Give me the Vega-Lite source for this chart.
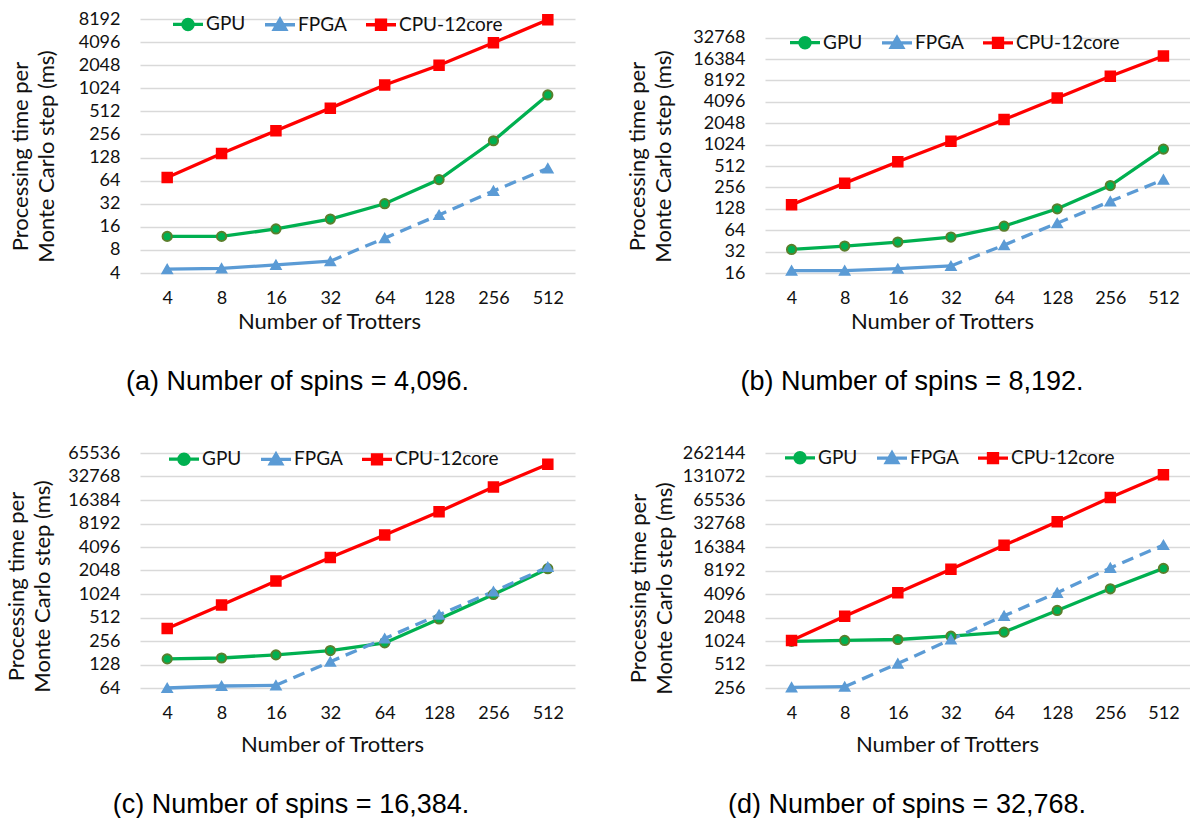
{
  "$schema": "https://vega.github.io/schema/vega-lite/v6.json",
  "padding": {"left": 5, "top": 7, "right": 0, "bottom": 0},
  "data": {"values": [
    {"panel":"a","series":"GPU","trotters":4,"time":12.0,"estimated":false},
    {"panel":"a","series":"GPU","trotters":8,"time":12.0,"estimated":false},
    {"panel":"a","series":"GPU","trotters":16,"time":15.0,"estimated":false},
    {"panel":"a","series":"GPU","trotters":32,"time":20.2,"estimated":false},
    {"panel":"a","series":"GPU","trotters":64,"time":32,"estimated":false},
    {"panel":"a","series":"GPU","trotters":128,"time":66,"estimated":false},
    {"panel":"a","series":"GPU","trotters":256,"time":212,"estimated":false},
    {"panel":"a","series":"GPU","trotters":512,"time":839,"estimated":false},
    {"panel":"a","series":"FPGA","trotters":4,"time":4.5,"estimated":false},
    {"panel":"a","series":"FPGA","trotters":8,"time":4.6,"estimated":false},
    {"panel":"a","series":"FPGA","trotters":16,"time":5.1,"estimated":false},
    {"panel":"a","series":"FPGA","trotters":32,"time":5.7,"estimated":false},
    {"panel":"a","series":"FPGA","trotters":64,"time":11.4,"estimated":true},
    {"panel":"a","series":"FPGA","trotters":128,"time":22.8,"estimated":true},
    {"panel":"a","series":"FPGA","trotters":256,"time":47,"estimated":true},
    {"panel":"a","series":"FPGA","trotters":512,"time":92.5,"estimated":true},
    {"panel":"a","series":"CPU-12core","trotters":4,"time":70.5,"estimated":false},
    {"panel":"a","series":"CPU-12core","trotters":8,"time":145,"estimated":false},
    {"panel":"a","series":"CPU-12core","trotters":16,"time":286,"estimated":false},
    {"panel":"a","series":"CPU-12core","trotters":32,"time":564,"estimated":false},
    {"panel":"a","series":"CPU-12core","trotters":64,"time":1129,"estimated":false},
    {"panel":"a","series":"CPU-12core","trotters":128,"time":2048,"estimated":false},
    {"panel":"a","series":"CPU-12core","trotters":256,"time":4010,"estimated":false},
    {"panel":"a","series":"CPU-12core","trotters":512,"time":8030,"estimated":false},
    {"panel":"b","series":"GPU","trotters":4,"time":34.3,"estimated":false},
    {"panel":"b","series":"GPU","trotters":8,"time":38.3,"estimated":false},
    {"panel":"b","series":"GPU","trotters":16,"time":43.6,"estimated":false},
    {"panel":"b","series":"GPU","trotters":32,"time":51.3,"estimated":false},
    {"panel":"b","series":"GPU","trotters":64,"time":72.9,"estimated":false},
    {"panel":"b","series":"GPU","trotters":128,"time":128,"estimated":false},
    {"panel":"b","series":"GPU","trotters":256,"time":272,"estimated":false},
    {"panel":"b","series":"GPU","trotters":512,"time":885,"estimated":false},
    {"panel":"b","series":"FPGA","trotters":4,"time":17.3,"estimated":false},
    {"panel":"b","series":"FPGA","trotters":8,"time":17.3,"estimated":false},
    {"panel":"b","series":"FPGA","trotters":16,"time":18.4,"estimated":false},
    {"panel":"b","series":"FPGA","trotters":32,"time":20.1,"estimated":false},
    {"panel":"b","series":"FPGA","trotters":64,"time":39.5,"estimated":true},
    {"panel":"b","series":"FPGA","trotters":128,"time":80.3,"estimated":true},
    {"panel":"b","series":"FPGA","trotters":256,"time":163,"estimated":true},
    {"panel":"b","series":"FPGA","trotters":512,"time":329,"estimated":true},
    {"panel":"b","series":"CPU-12core","trotters":4,"time":146,"estimated":false},
    {"panel":"b","series":"CPU-12core","trotters":8,"time":294,"estimated":false},
    {"panel":"b","series":"CPU-12core","trotters":16,"time":589,"estimated":false},
    {"panel":"b","series":"CPU-12core","trotters":32,"time":1144,"estimated":false},
    {"panel":"b","series":"CPU-12core","trotters":64,"time":2304,"estimated":false},
    {"panel":"b","series":"CPU-12core","trotters":128,"time":4640,"estimated":false},
    {"panel":"b","series":"CPU-12core","trotters":256,"time":9400,"estimated":false},
    {"panel":"b","series":"CPU-12core","trotters":512,"time":18050,"estimated":false},
    {"panel":"c","series":"GPU","trotters":4,"time":151,"estimated":false},
    {"panel":"c","series":"GPU","trotters":8,"time":155,"estimated":false},
    {"panel":"c","series":"GPU","trotters":16,"time":170,"estimated":false},
    {"panel":"c","series":"GPU","trotters":32,"time":193,"estimated":false},
    {"panel":"c","series":"GPU","trotters":64,"time":242,"estimated":false},
    {"panel":"c","series":"GPU","trotters":128,"time":491,"estimated":false},
    {"panel":"c","series":"GPU","trotters":256,"time":1010,"estimated":false},
    {"panel":"c","series":"GPU","trotters":512,"time":2160,"estimated":false},
    {"panel":"c","series":"FPGA","trotters":4,"time":64,"estimated":false},
    {"panel":"c","series":"FPGA","trotters":8,"time":67.9,"estimated":false},
    {"panel":"c","series":"FPGA","trotters":16,"time":69.2,"estimated":false},
    {"panel":"c","series":"FPGA","trotters":32,"time":139,"estimated":true},
    {"panel":"c","series":"FPGA","trotters":64,"time":276,"estimated":true},
    {"panel":"c","series":"FPGA","trotters":128,"time":555,"estimated":true},
    {"panel":"c","series":"FPGA","trotters":256,"time":1100,"estimated":true},
    {"panel":"c","series":"FPGA","trotters":512,"time":2270,"estimated":true},
    {"panel":"c","series":"CPU-12core","trotters":4,"time":370,"estimated":false},
    {"panel":"c","series":"CPU-12core","trotters":8,"time":740,"estimated":false},
    {"panel":"c","series":"CPU-12core","trotters":16,"time":1500,"estimated":false},
    {"panel":"c","series":"CPU-12core","trotters":32,"time":3000,"estimated":false},
    {"panel":"c","series":"CPU-12core","trotters":64,"time":5840,"estimated":false},
    {"panel":"c","series":"CPU-12core","trotters":128,"time":11600,"estimated":false},
    {"panel":"c","series":"CPU-12core","trotters":256,"time":24000,"estimated":false},
    {"panel":"c","series":"CPU-12core","trotters":512,"time":47000,"estimated":false},
    {"panel":"d","series":"GPU","trotters":4,"time":1015,"estimated":false},
    {"panel":"d","series":"GPU","trotters":8,"time":1040,"estimated":false},
    {"panel":"d","series":"GPU","trotters":16,"time":1070,"estimated":false},
    {"panel":"d","series":"GPU","trotters":32,"time":1180,"estimated":false},
    {"panel":"d","series":"GPU","trotters":64,"time":1330,"estimated":false},
    {"panel":"d","series":"GPU","trotters":128,"time":2520,"estimated":false},
    {"panel":"d","series":"GPU","trotters":256,"time":4770,"estimated":false},
    {"panel":"d","series":"GPU","trotters":512,"time":8720,"estimated":false},
    {"panel":"d","series":"FPGA","trotters":4,"time":261,"estimated":false},
    {"panel":"d","series":"FPGA","trotters":8,"time":266,"estimated":false},
    {"panel":"d","series":"FPGA","trotters":16,"time":526,"estimated":true},
    {"panel":"d","series":"FPGA","trotters":32,"time":1070,"estimated":true},
    {"panel":"d","series":"FPGA","trotters":64,"time":2150,"estimated":true},
    {"panel":"d","series":"FPGA","trotters":128,"time":4240,"estimated":true},
    {"panel":"d","series":"FPGA","trotters":256,"time":8840,"estimated":true},
    {"panel":"d","series":"FPGA","trotters":512,"time":17400,"estimated":true},
    {"panel":"d","series":"CPU-12core","trotters":4,"time":1040,"estimated":false},
    {"panel":"d","series":"CPU-12core","trotters":8,"time":2130,"estimated":false},
    {"panel":"d","series":"CPU-12core","trotters":16,"time":4240,"estimated":false},
    {"panel":"d","series":"CPU-12core","trotters":32,"time":8480,"estimated":false},
    {"panel":"d","series":"CPU-12core","trotters":64,"time":17200,"estimated":false},
    {"panel":"d","series":"CPU-12core","trotters":128,"time":34400,"estimated":false},
    {"panel":"d","series":"CPU-12core","trotters":256,"time":70700,"estimated":false},
    {"panel":"d","series":"CPU-12core","trotters":512,"time":138000,"estimated":false}
  ]},
  "columns": 2,
  "spacing": {"row": 45, "column": 51},
  "resolve": {"scale": {"color": "independent"}, "legend": {"color": "independent"}},
  "concat": [
    {
      "width": 435, "height": 254,
      "title": {"text": "(a) Number of spins = 4,096.", "orient": "bottom", "anchor": "middle", "dx": -60, "offset": 37, "font": "Liberation Sans", "fontSize": 27, "fontWeight": "normal", "color": "#000"},
      "transform": [{"filter": "datum.panel == 'a'"}],
      "encoding": {
        "x": {"field": "trotters", "type": "ordinal", "scale": {"type": "point", "padding": 0.5}, "axis": {"title": "Number of Trotters", "titleX": 189, "titlePadding": 4, "labelAngle": 0}},
        "y": {"field": "time", "type": "quantitative", "scale": {"type": "log", "base": 2, "domain": [4, 8192], "nice": false}, "axis": {"values": [4,8,16,32,64,128,256,512,1024,2048,4096,8192], "format": "d", "titlePadding": 20, "titleY": 137, "title": ["Processing time per", "Monte Carlo step (ms)"]}}
      },
      "layer": [
        {"transform": [{"filter": "!datum.estimated"}], "mark": {"type": "line", "strokeWidth": 3.3},
         "encoding": {"color": {"field": "series", "type": "nominal", "scale": {"domain": ["GPU","FPGA","CPU-12core"], "range": ["#00b050","#5b9bd5","#ff0000"]},
           "legend": {"title": null, "orient": "none", "legendX": 31, "legendY": -11.7, "direction": "horizontal",
             "encode": {"symbols": {"update": {
               "shape": {"signal": "datum.value === 'GPU' ? 'M-1,0H1M0.34,0A0.34,0.34,0,1,1,-0.34,0A0.34,0.34,0,1,1,0.34,0Z' : (datum.value === 'FPGA' ? 'M-1,0H1M0,-0.36L0.38,0.3L-0.38,0.3Z' : 'M-1,0H1M-0.3,-0.3H0.3V0.3H-0.3Z')"},
               "fill": {"signal": "datum.value === 'GPU' ? '#00b050' : (datum.value === 'FPGA' ? '#5b9bd5' : '#ff0000')"},
               "stroke": {"signal": "datum.value === 'GPU' ? '#00b050' : (datum.value === 'FPGA' ? '#5b9bd5' : '#ff0000')"},
               "opacity": {"value": 1}}}}}}}},
        {"transform": [{"filter": "datum.series == 'FPGA'"}, {"window": [{"op": "lead", "field": "estimated", "as": "nextEst"}], "sort": [{"field": "trotters", "order": "ascending"}]}, {"filter": "datum.estimated || datum.nextEst"}],
         "mark": {"type": "line", "strokeWidth": 3.3, "strokeDash": [12, 7], "color": "#5b9bd5"}, "encoding": {}},
        {"mark": {"type": "point", "filled": true, "opacity": 1, "strokeWidth": 2},
         "encoding": {
           "shape": {"field": "series", "type": "nominal", "scale": {"domain": ["GPU","FPGA","CPU-12core"], "range": ["circle","triangle-up","square"]}, "legend": null},
           "fill": {"field": "series", "type": "nominal", "scale": {"domain": ["GPU","FPGA","CPU-12core"], "range": ["#00b050","#5b9bd5","#ff0000"]}, "legend": null},
           "stroke": {"field": "series", "type": "nominal", "scale": {"domain": ["GPU","FPGA","CPU-12core"], "range": ["#5a7f2c","#5b9bd5","#ff0000"]}, "legend": null},
           "size": {"field": "series", "type": "nominal", "scale": {"domain": ["GPU","FPGA","CPU-12core"], "range": [85, 90, 80]}, "legend": null}}}
      ]
    },
    {
      "width": 425, "height": 254,
      "title": {"text": "(b) Number of spins = 8,192.", "orient": "bottom", "anchor": "middle", "dx": -65.5, "offset": 37, "font": "Liberation Sans", "fontSize": 27, "fontWeight": "normal", "color": "#000"},
      "transform": [{"filter": "datum.panel == 'b'"}],
      "encoding": {
        "x": {"field": "trotters", "type": "ordinal", "scale": {"type": "point", "padding": 0.5}, "axis": {"title": "Number of Trotters", "titleX": 177, "titlePadding": 4, "labelAngle": 0}},
        "y": {"field": "time", "type": "quantitative", "scale": {"type": "log", "base": 2, "domain": [16, 59900], "nice": false}, "axis": {"values": [16,32,64,128,256,512,1024,2048,4096,8192,16384,32768], "format": "d", "titlePadding": 17, "titleY": 137, "title": ["Processing time per", "Monte Carlo step (ms)"]}}
      },
      "layer": [
        {"transform": [{"filter": "!datum.estimated"}], "mark": {"type": "line", "strokeWidth": 3.3},
         "encoding": {"color": {"field": "series", "type": "nominal", "scale": {"domain": ["GPU","FPGA","CPU-12core"], "range": ["#00b050","#5b9bd5","#ff0000"]},
           "legend": {"title": null, "orient": "none", "legendX": 23, "legendY": 6.5, "direction": "horizontal",
             "encode": {"symbols": {"update": {
               "shape": {"signal": "datum.value === 'GPU' ? 'M-1,0H1M0.34,0A0.34,0.34,0,1,1,-0.34,0A0.34,0.34,0,1,1,0.34,0Z' : (datum.value === 'FPGA' ? 'M-1,0H1M0,-0.36L0.38,0.3L-0.38,0.3Z' : 'M-1,0H1M-0.3,-0.3H0.3V0.3H-0.3Z')"},
               "fill": {"signal": "datum.value === 'GPU' ? '#00b050' : (datum.value === 'FPGA' ? '#5b9bd5' : '#ff0000')"},
               "stroke": {"signal": "datum.value === 'GPU' ? '#00b050' : (datum.value === 'FPGA' ? '#5b9bd5' : '#ff0000')"},
               "opacity": {"value": 1}}}}}}}},
        {"transform": [{"filter": "datum.series == 'FPGA'"}, {"window": [{"op": "lead", "field": "estimated", "as": "nextEst"}], "sort": [{"field": "trotters", "order": "ascending"}]}, {"filter": "datum.estimated || datum.nextEst"}],
         "mark": {"type": "line", "strokeWidth": 3.3, "strokeDash": [12, 7], "color": "#5b9bd5"}, "encoding": {}},
        {"mark": {"type": "point", "filled": true, "opacity": 1, "strokeWidth": 2},
         "encoding": {
           "shape": {"field": "series", "type": "nominal", "scale": {"domain": ["GPU","FPGA","CPU-12core"], "range": ["circle","triangle-up","square"]}, "legend": null},
           "fill": {"field": "series", "type": "nominal", "scale": {"domain": ["GPU","FPGA","CPU-12core"], "range": ["#00b050","#5b9bd5","#ff0000"]}, "legend": null},
           "stroke": {"field": "series", "type": "nominal", "scale": {"domain": ["GPU","FPGA","CPU-12core"], "range": ["#5a7f2c","#5b9bd5","#ff0000"]}, "legend": null},
           "size": {"field": "series", "type": "nominal", "scale": {"domain": ["GPU","FPGA","CPU-12core"], "range": [85, 90, 80]}, "legend": null}}}
      ]
    },
    {
      "width": 435, "height": 235,
      "title": {"text": "(c) Number of spins = 16,384.", "orient": "bottom", "anchor": "middle", "dx": -66.5, "offset": 37, "font": "Liberation Sans", "fontSize": 27, "fontWeight": "normal", "color": "#000"},
      "transform": [{"filter": "datum.panel == 'c'"}],
      "encoding": {
        "x": {"field": "trotters", "type": "ordinal", "scale": {"type": "point", "padding": 0.5}, "axis": {"title": "Number of Trotters", "titleX": 192, "titlePadding": 12, "labelAngle": 0}},
        "y": {"field": "time", "type": "quantitative", "scale": {"type": "log", "base": 2, "domain": [64, 65536], "nice": false}, "axis": {"values": [64,128,256,512,1024,2048,4096,8192,16384,32768,65536], "format": "d", "titlePadding": 13.5, "titleY": 133, "title": ["Processing time per", "Monte Carlo step (ms)"]}}
      },
      "layer": [
        {"transform": [{"filter": "!datum.estimated"}], "mark": {"type": "line", "strokeWidth": 3.3},
         "encoding": {"color": {"field": "series", "type": "nominal", "scale": {"domain": ["GPU","FPGA","CPU-12core"], "range": ["#00b050","#5b9bd5","#ff0000"]},
           "legend": {"title": null, "orient": "none", "legendX": 27, "legendY": -11, "direction": "horizontal",
             "encode": {"symbols": {"update": {
               "shape": {"signal": "datum.value === 'GPU' ? 'M-1,0H1M0.34,0A0.34,0.34,0,1,1,-0.34,0A0.34,0.34,0,1,1,0.34,0Z' : (datum.value === 'FPGA' ? 'M-1,0H1M0,-0.36L0.38,0.3L-0.38,0.3Z' : 'M-1,0H1M-0.3,-0.3H0.3V0.3H-0.3Z')"},
               "fill": {"signal": "datum.value === 'GPU' ? '#00b050' : (datum.value === 'FPGA' ? '#5b9bd5' : '#ff0000')"},
               "stroke": {"signal": "datum.value === 'GPU' ? '#00b050' : (datum.value === 'FPGA' ? '#5b9bd5' : '#ff0000')"},
               "opacity": {"value": 1}}}}}}}},
        {"transform": [{"filter": "datum.series == 'FPGA'"}, {"window": [{"op": "lead", "field": "estimated", "as": "nextEst"}], "sort": [{"field": "trotters", "order": "ascending"}]}, {"filter": "datum.estimated || datum.nextEst"}],
         "mark": {"type": "line", "strokeWidth": 3.3, "strokeDash": [12, 7], "color": "#5b9bd5"}, "encoding": {}},
        {"mark": {"type": "point", "filled": true, "opacity": 1, "strokeWidth": 2},
         "encoding": {
           "shape": {"field": "series", "type": "nominal", "scale": {"domain": ["GPU","FPGA","CPU-12core"], "range": ["circle","triangle-up","square"]}, "legend": null},
           "fill": {"field": "series", "type": "nominal", "scale": {"domain": ["GPU","FPGA","CPU-12core"], "range": ["#00b050","#5b9bd5","#ff0000"]}, "legend": null},
           "stroke": {"field": "series", "type": "nominal", "scale": {"domain": ["GPU","FPGA","CPU-12core"], "range": ["#5a7f2c","#5b9bd5","#ff0000"]}, "legend": null},
           "size": {"field": "series", "type": "nominal", "scale": {"domain": ["GPU","FPGA","CPU-12core"], "range": [85, 90, 80]}, "legend": null}}}
      ]
    },
    {
      "width": 425, "height": 235,
      "title": {"text": "(d) Number of spins = 32,768.", "orient": "bottom", "anchor": "middle", "dx": -70.5, "offset": 37, "font": "Liberation Sans", "fontSize": 27, "fontWeight": "normal", "color": "#000"},
      "transform": [{"filter": "datum.panel == 'd'"}],
      "encoding": {
        "x": {"field": "trotters", "type": "ordinal", "scale": {"type": "point", "padding": 0.5}, "axis": {"title": "Number of Trotters", "titleX": 182, "titlePadding": 12, "labelAngle": 0}},
        "y": {"field": "time", "type": "quantitative", "scale": {"type": "log", "base": 2, "domain": [256, 262144], "nice": false}, "axis": {"values": [256,512,1024,2048,4096,8192,16384,32768,65536,131072,262144], "format": "d", "titlePadding": 6, "titleY": 135, "title": ["Processing time per", "Monte Carlo step (ms)"]}}
      },
      "layer": [
        {"transform": [{"filter": "!datum.estimated"}], "mark": {"type": "line", "strokeWidth": 3.3},
         "encoding": {"color": {"field": "series", "type": "nominal", "scale": {"domain": ["GPU","FPGA","CPU-12core"], "range": ["#00b050","#5b9bd5","#ff0000"]},
           "legend": {"title": null, "orient": "none", "legendX": 18, "legendY": -12.3, "direction": "horizontal",
             "encode": {"symbols": {"update": {
               "shape": {"signal": "datum.value === 'GPU' ? 'M-1,0H1M0.34,0A0.34,0.34,0,1,1,-0.34,0A0.34,0.34,0,1,1,0.34,0Z' : (datum.value === 'FPGA' ? 'M-1,0H1M0,-0.36L0.38,0.3L-0.38,0.3Z' : 'M-1,0H1M-0.3,-0.3H0.3V0.3H-0.3Z')"},
               "fill": {"signal": "datum.value === 'GPU' ? '#00b050' : (datum.value === 'FPGA' ? '#5b9bd5' : '#ff0000')"},
               "stroke": {"signal": "datum.value === 'GPU' ? '#00b050' : (datum.value === 'FPGA' ? '#5b9bd5' : '#ff0000')"},
               "opacity": {"value": 1}}}}}}}},
        {"transform": [{"filter": "datum.series == 'FPGA'"}, {"window": [{"op": "lead", "field": "estimated", "as": "nextEst"}], "sort": [{"field": "trotters", "order": "ascending"}]}, {"filter": "datum.estimated || datum.nextEst"}],
         "mark": {"type": "line", "strokeWidth": 3.3, "strokeDash": [12, 7], "color": "#5b9bd5"}, "encoding": {}},
        {"mark": {"type": "point", "filled": true, "opacity": 1, "strokeWidth": 2},
         "encoding": {
           "shape": {"field": "series", "type": "nominal", "scale": {"domain": ["GPU","FPGA","CPU-12core"], "range": ["circle","triangle-up","square"]}, "legend": null},
           "fill": {"field": "series", "type": "nominal", "scale": {"domain": ["GPU","FPGA","CPU-12core"], "range": ["#00b050","#5b9bd5","#ff0000"]}, "legend": null},
           "stroke": {"field": "series", "type": "nominal", "scale": {"domain": ["GPU","FPGA","CPU-12core"], "range": ["#5a7f2c","#5b9bd5","#ff0000"]}, "legend": null},
           "size": {"field": "series", "type": "nominal", "scale": {"domain": ["GPU","FPGA","CPU-12core"], "range": [85, 90, 80]}, "legend": null}}}
      ]
    }
  ],
  "config": {
    "view": {"stroke": null},
    "font": "Lato",
    "axis": {"labelFont": "Lato", "labelFontSize": 18, "labelColor": "#111", "titleFont": "Lato", "titleFontSize": 22, "titleFontWeight": "normal", "titleColor": "#111", "ticks": false, "tickSize": 0, "domain": false},
    "axisX": {"grid": false, "labelPadding": 16},
    "axisY": {"grid": true, "gridColor": "#d9d9d9", "gridWidth": 1.3, "labelPadding": 20, "titleLineHeight": 26},
    "legend": {"labelFont": "Lato", "labelFontSize": 19, "labelColor": "#111", "symbolSize": 900, "symbolStrokeWidth": 3.3, "labelOffset": 1, "columnPadding": 12}
  }
}
